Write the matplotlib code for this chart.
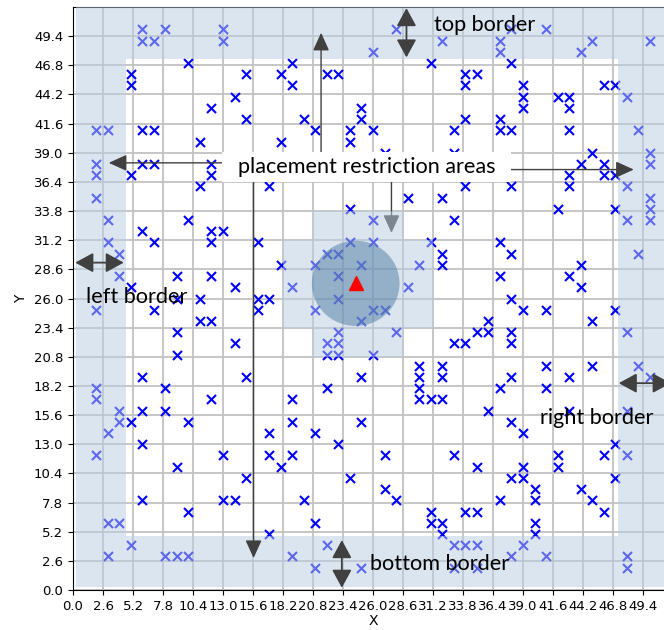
import matplotlib
matplotlib.use("Agg")
import matplotlib.pyplot as plt
from matplotlib.patches import Circle, Polygon, Rectangle

# candidate node positions on the 1 m lattice, listed row by row from the top
node_x = [6, 8, 13, 28, 38, 41,
          6, 7, 13, 32, 37, 45, 50,
          26, 37, 44,
          10, 19, 31, 38,
          5, 15, 18, 22, 23, 34, 35,
          5, 19, 34, 39, 46, 47,
          14, 39, 42, 43, 48,
          12, 25, 39, 43,
          15, 20, 25, 34, 37,
          2, 3, 6, 7, 21, 24, 26, 33, 37, 38, 43, 49,
          11, 18, 24,
          27, 33, 45, 50,
          2, 6, 7, 12, 44, 46, 50,
          2, 5, 12, 43, 46, 47,
          11, 17, 34, 38, 43, 48,
          2, 29, 32, 50,
          24, 42, 47, 50,
          3, 10, 26, 33, 48, 50,
          6, 12, 13,
          3, 7, 12, 16, 24, 26, 31, 37,
          4, 22, 23, 32, 38, 49,
          18, 21, 25, 30, 32, 44,
          4, 9, 12, 23, 37, 43,
          5, 14, 19, 29, 44,
          9, 11, 16, 17, 23, 38,
          2, 7, 16, 21, 26, 27, 39, 41, 47,
          11, 12, 25, 36, 45,
          9, 23, 28, 35, 36, 38, 48,
          14, 22, 23, 33, 34, 38,
          9, 22, 23, 26,
          30, 32, 41, 45, 49,
          6, 15, 25, 30, 32, 38, 43, 50,
          2, 8, 22, 30, 37, 41,
          2, 12, 19, 30, 31, 32,
          4, 6, 8, 36, 43, 48,
          4, 5, 10, 19, 25, 38,
          3, 17, 21, 39,
          6, 23, 47,
          2, 13, 17, 19, 27, 33, 42, 46, 48,
          9, 18, 35, 39, 42,
          15, 24, 38, 39, 47,
          27, 40, 44,
          6, 13, 14, 20, 28, 37, 40, 45,
          10, 31, 34, 35, 46,
          3, 4, 21, 31, 32, 40,
          17, 32, 40,
          5, 22, 33, 34, 35, 39,
          3, 8, 9, 10, 19, 38, 41, 48,
          21, 25, 33, 35, 48]
node_y = [50, 50, 50, 50, 50, 50,
          49, 49, 49, 49, 49, 49, 49,
          48, 48, 48,
          47, 47, 47, 47,
          46, 46, 46, 46, 46, 46, 46,
          45, 45, 45, 45, 45, 45,
          44, 44, 44, 44, 44,
          43, 43, 43, 43,
          42, 42, 42, 42, 42,
          41, 41, 41, 41, 41, 41, 41, 41, 41, 41, 41, 41,
          40, 40, 40,
          39, 39, 39, 39,
          38, 38, 38, 38, 38, 38, 38,
          37, 37, 37, 37, 37, 37,
          36, 36, 36, 36, 36, 36,
          35, 35, 35, 35,
          34, 34, 34, 34,
          33, 33, 33, 33, 33, 33,
          32, 32, 32,
          31, 31, 31, 31, 31, 31, 31, 31,
          30, 30, 30, 30, 30, 30,
          29, 29, 29, 29, 29, 29,
          28, 28, 28, 28, 28, 28,
          27, 27, 27, 27, 27,
          26, 26, 26, 26, 26, 26,
          25, 25, 25, 25, 25, 25, 25, 25, 25,
          24, 24, 24, 24, 24,
          23, 23, 23, 23, 23, 23, 23,
          22, 22, 22, 22, 22, 22,
          21, 21, 21, 21,
          20, 20, 20, 20, 20,
          19, 19, 19, 19, 19, 19, 19, 19,
          18, 18, 18, 18, 18, 18,
          17, 17, 17, 17, 17, 17,
          16, 16, 16, 16, 16, 16,
          15, 15, 15, 15, 15, 15,
          14, 14, 14, 14,
          13, 13, 13,
          12, 12, 12, 12, 12, 12, 12, 12, 12,
          11, 11, 11, 11, 11,
          10, 10, 10, 10, 10,
          9, 9, 9,
          8, 8, 8, 8, 8, 8, 8, 8,
          7, 7, 7, 7, 7,
          6, 6, 6, 6, 6, 6,
          5, 5, 5,
          4, 4, 4, 4, 4, 4,
          3, 3, 3, 3, 3, 3, 3, 3,
          2, 2, 2, 2, 2]

# transmitter and its keep-out radius
target_x = 24.5
target_y = 27.35
keepout_radius = 3.8

tick_values = [0.0, 2.6, 5.2, 7.8, 10.4, 13.0, 15.6, 18.2, 20.8, 23.4,
               26.0, 28.6, 31.2, 33.8, 36.4, 39.0, 41.6, 44.2, 46.8, 49.4]
tick_labels = [f"{v:.1f}" for v in tick_values]

LABEL_FONT = ["Lato", "DejaVu Sans"]
LABEL_SIZE = 15.6
ZONE_COLOR = "#b9cde1"
ARROW_COLOR = "#404040"

fig = plt.figure(figsize=(6.64, 6.30), dpi=100)
ax = fig.add_axes([73 / 664, 40 / 630, 600 / 664, 583 / 630])
ax.set_xlim(0, 52)
ax.set_ylim(0, 52)
ax.set_xticks(tick_values)
ax.set_xticklabels(tick_labels, fontsize=9.5)
ax.set_yticks(tick_values)
ax.set_yticklabels(tick_labels, fontsize=9.5)
ax.set_xlabel("X", fontsize=10, labelpad=1)
ax.set_ylabel("Y", fontsize=10)
ax.set_axisbelow(True)
ax.grid(True, color="#c2c2c2", lw=1.3)

ax.scatter(node_x, node_y, marker="x", c="blue", s=42, linewidths=1.5, zorder=2)

# border bands
for x0, y0, w, h in [(0.25, 47.4, 52, 4.6),
                     (0.25, 0.25, 52, 4.6),
                     (0.25, 4.85, 4.3, 42.55),
                     (47.2, 4.85, 5.0, 42.55)]:
    ax.add_patch(Rectangle((x0, y0), w, h, fc=ZONE_COLOR, ec="none", alpha=0.5, zorder=3))

# cross-shaped zone around the transmitter
cross = [(18.2, 23.4), (20.8, 23.4), (20.8, 20.8), (28.6, 20.8), (28.6, 23.4),
         (31.2, 23.4), (31.2, 31.2), (28.6, 31.2), (28.6, 33.8), (20.8, 33.8),
         (20.8, 31.2), (18.2, 31.2)]
ax.add_patch(Polygon(cross, closed=True, fc=ZONE_COLOR, ec="none", alpha=0.5, zorder=5))
ax.add_patch(Circle((target_x, target_y), keepout_radius, fc="#4f7aa3", ec="none",
                    alpha=0.5, zorder=6))
ax.plot(target_x, target_y, marker="^", color="red", ms=10, ls="none", zorder=7)


def arrow(start, end, style, scale=20, lw=1.0):
    ax.annotate("", xy=end, xytext=start, zorder=4,
                arrowprops=dict(arrowstyle=style, mutation_scale=scale, color=ARROW_COLOR,
                                lw=lw, shrinkA=0, shrinkB=0))


single = "-|>,head_length=0.55,head_width=0.25"
arrow((13.5, 38.1), (3.1, 38.1), single)
arrow((37.5, 37.5), (48.6, 37.5), single)
arrow((21.5, 38.5), (21.5, 49.7), single)
arrow((15.65, 37.0), (15.65, 2.85), single)
arrow((27.6, 37.0), (27.6, 31.85), single)

double = "<|-|>,head_length=0.55,head_width=0.3"
arrow((28.9, 47.5), (28.9, 51.9), double, lw=1.3)
arrow((0.2, 29.2), (4.4, 29.2), double, lw=1.3)
arrow((47.3, 18.45), (51.8, 18.45), double, lw=1.3)
arrow((23.3, 0.2), (23.3, 4.45), double, lw=1.3)

ax.add_patch(Rectangle((12.95, 36.4), 25.05, 2.67, fc="white", ec="none", zorder=8))
ax.text(25.5, 37.75, "placement restriction areas", ha="center", va="center",
        fontsize=LABEL_SIZE, family=LABEL_FONT, zorder=9)
ax.text(35.65, 50.4, "top border", ha="center", va="center",
        fontsize=LABEL_SIZE, family=LABEL_FONT, zorder=9)
ax.text(5.55, 26.15, "left border", ha="center", va="center",
        fontsize=LABEL_SIZE, family=LABEL_FONT, zorder=9)
ax.text(45.4, 15.35, "right border", ha="center", va="center",
        fontsize=LABEL_SIZE, family=LABEL_FONT, zorder=9)
ax.text(31.8, 2.3, "bottom border", ha="center", va="center",
        fontsize=LABEL_SIZE, family=LABEL_FONT, zorder=9)

fig.savefig("out.png", dpi=100)
plt.close(fig)
